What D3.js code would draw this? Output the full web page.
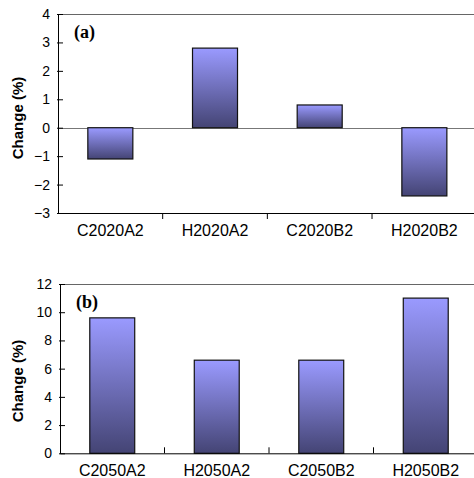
<!DOCTYPE html>
<html><head><meta charset="utf-8">
<script src="https://cdn.jsdelivr.net/npm/d3@7"></script>
<style>body{margin:0;background:#fff}svg{display:block}</style>
</head><body>
<svg id="c" width="474" height="478"></svg>
<script>
const catsA = ["C2020A2","H2020A2","C2020B2","H2020B2"];
const valsA = [-1.1, 2.8, 0.8, -2.4];
const ticksA = [4,3,2,1,0,-1,-2,-3];
const catsB = ["C2050A2","H2050A2","C2050B2","H2050B2"];
const valsB = [9.6, 6.6, 6.6, 11.0];
const ticksB = [12,10,8,6,4,2,0];

const svg = d3.select("#c");
const defs = svg.append("defs");
const g = defs.append("linearGradient").attr("id","bg").attr("x1",0).attr("y1",0).attr("x2",0).attr("y2",1);
g.append("stop").attr("offset","0%").attr("stop-color","#9a9aff");
g.append("stop").attr("offset","100%").attr("stop-color","#444474");

const SANS = "Liberation Sans, Arial, sans-serif";

function panel(cfg){
  const {cats, vals, ticks, x0, x1, y0, y1, dom, label, sepDir, ylabCy} = cfg;
  const x = d3.scaleBand().domain(cats).range([x0,x1]).paddingInner(0).paddingOuter(0);
  const y = d3.scaleLinear().domain(dom).range([y1,y0]);
  const root = svg.append("g");
  root.append("line").attr("x1",x0).attr("x2",x1).attr("y1",y0+0.5).attr("y2",y0+0.5)
    .attr("stroke","#666").attr("stroke-width",1);
  if (dom[0] < 0) {
    root.append("line").attr("x1",x0).attr("x2",x1).attr("y1",Math.round(y(0))+0.5).attr("y2",Math.round(y(0))+0.5)
      .attr("stroke","#777").attr("stroke-width",1);
  }
  const bw = x.bandwidth()*0.43;
  root.selectAll("rect.bar").data(vals).join("rect").attr("class","bar")
    .attr("x",(d,i)=>x(cats[i])+x.bandwidth()/2-bw/2)
    .attr("width",bw)
    .attr("y",d=>y(Math.max(0,d)))
    .attr("height",d=>Math.abs(y(d)-y(0)))
    .attr("fill","url(#bg)").attr("stroke","#111").attr("stroke-width",1.2);
  // y axis with ticks crossing inward
  const ya = root.append("g").attr("transform",`translate(${x0},0)`)
    .call(d3.axisLeft(y).tickValues(ticks).tickSize(0).tickSizeOuter(0).tickPadding(8)
      .tickFormat(d=>d<0?"\u2212"+Math.abs(d):d));
  ya.selectAll(".tick line").attr("x1",-1).attr("x2",5).attr("stroke","#000");
  ya.select(".domain").attr("stroke","#000");
  ya.selectAll("text").attr("font-family",SANS).attr("font-size",14).attr("fill","#000");
  // x axis
  const xa = root.append("g").attr("transform",`translate(0,${y1})`)
    .call(d3.axisBottom(x).tickSize(0).tickSizeOuter(0).tickPadding(0));
  xa.select(".domain").attr("stroke","#000");
  xa.selectAll("text").attr("dy",null).attr("y",23).attr("font-family",SANS).attr("font-size",16).attr("fill","#000");
  root.selectAll("line.sep").data(cats.slice(1)).join("line").attr("class","sep")
    .attr("x1",d=>x(d)).attr("x2",d=>x(d)).attr("y1",y1).attr("y2",y1+6*sepDir).attr("stroke","#000");
  root.append("text").attr("x",x0+16).attr("y",y0+24).text(label)
    .attr("font-family","Liberation Serif, Times New Roman, serif").attr("font-weight","bold").attr("font-size",18);
  root.append("text").attr("transform",`translate(23,${ylabCy}) rotate(-90)`)
    .attr("text-anchor","middle").text("Change (%)")
    .attr("font-family",SANS).attr("font-weight","bold").attr("font-size",15);
}

panel({cats:catsA, vals:valsA, ticks:ticksA, x0:58, x1:476.7, y0:14, y1:213, dom:[-3,4], label:"(a)", sepDir:1, ylabCy:118});
panel({cats:catsB, vals:valsB, ticks:ticksB, x0:60, x1:478, y0:284, y1:453.3, dom:[0,12], label:"(b)", sepDir:-1, ylabCy:381});
</script>
</body></html>
